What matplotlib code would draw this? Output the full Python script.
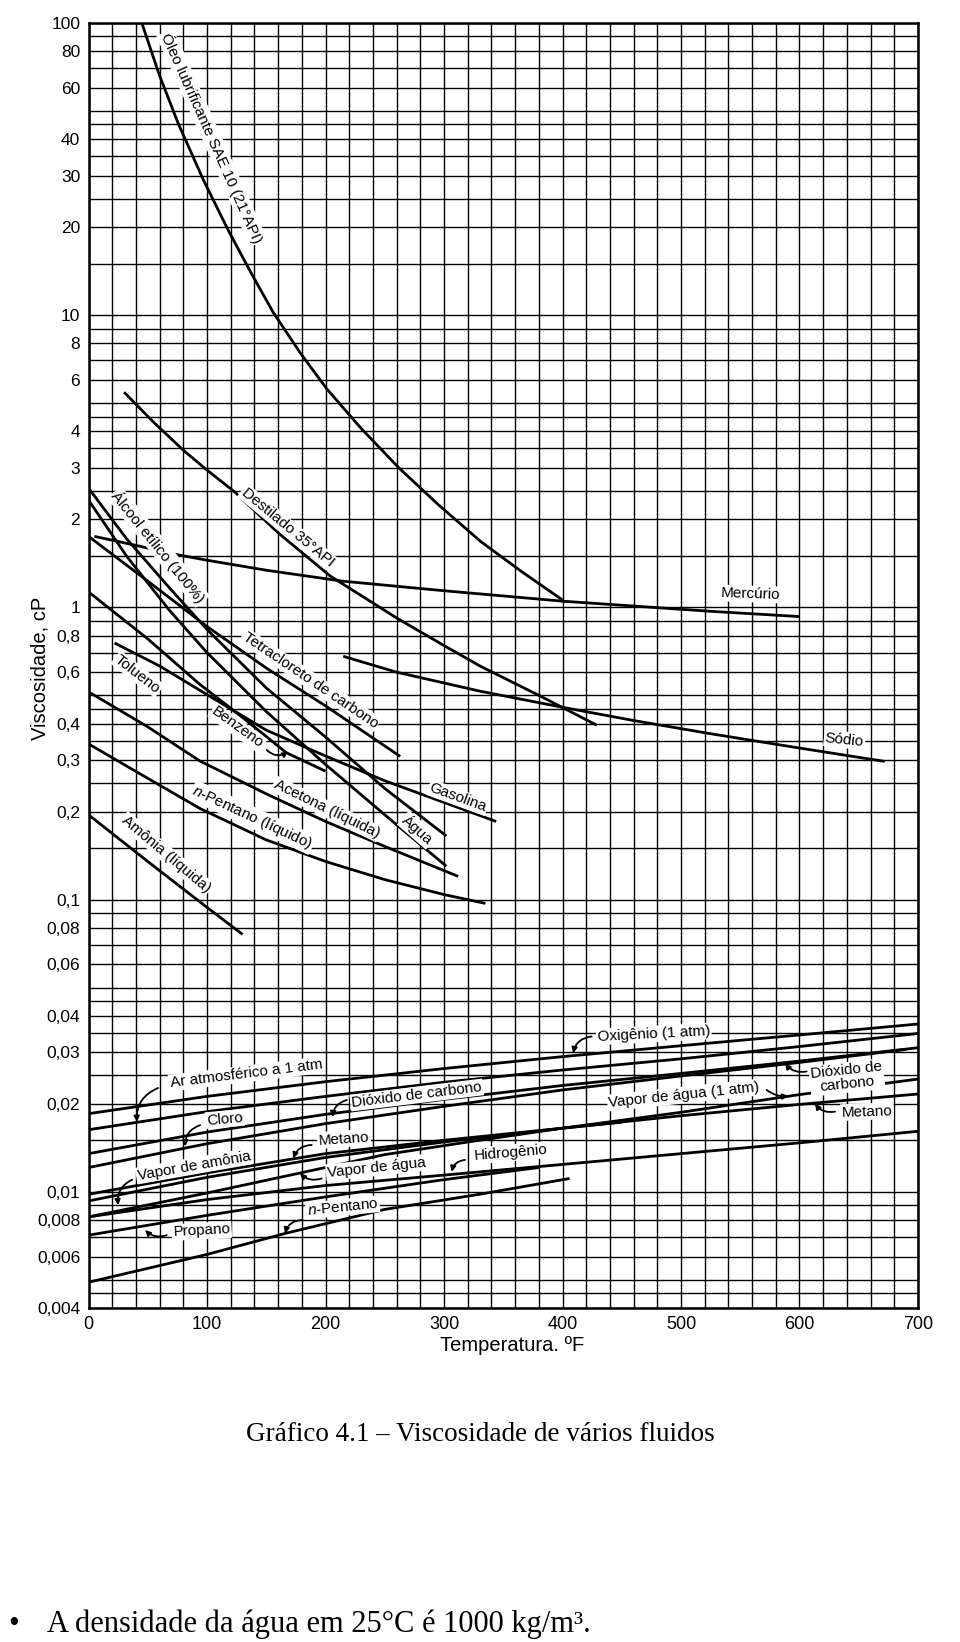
import matplotlib
matplotlib.use("Agg")
import matplotlib.pyplot as plt
from matplotlib.ticker import FixedLocator, NullFormatter

plt.rcParams['font.family'] = ['Liberation Sans', 'DejaVu Sans']
plt.rcParams['mathtext.fontset'] = 'custom'
plt.rcParams['mathtext.it'] = 'Liberation Sans:italic'
plt.rcParams['mathtext.rm'] = 'Liberation Sans'

# ---- curves: temperature (F) and viscosity (cP) ----
oleo_t = [45, 60, 76, 97, 118, 137, 156, 179, 201, 230, 262, 295, 331, 365, 400]
oleo_mu = [100, 66, 45, 29, 19.5, 14, 10.2, 7.4, 5.6, 4.1, 3.0, 2.25, 1.68, 1.33, 1.06]

destilado_t = [30, 55, 80, 100, 123, 160, 204, 260, 300, 331, 380, 429]
destilado_mu = [5.45, 4.3, 3.45, 2.95, 2.49, 1.8, 1.28, 0.92, 0.74, 0.628, 0.5, 0.395]

mercurio_t = [5, 43, 69, 100, 150, 214, 300, 400, 524, 600]
mercurio_mu = [1.75, 1.62, 1.53, 1.45, 1.34, 1.23, 1.14, 1.05, 0.97, 0.93]

sodio_t = [215, 260, 330, 400, 460, 524, 600, 672]
sodio_mu = [0.68, 0.6, 0.517, 0.455, 0.41, 0.37, 0.33, 0.297]

alcool_t = [0, 32, 68, 100, 150, 200, 250, 302]
alcool_mu = [2.56, 1.72, 1.17, 0.84, 0.53, 0.36, 0.24, 0.165]

agua_t = [0, 32, 68, 100, 150, 200, 250, 302]
agua_mu = [2.33, 1.5, 0.98, 0.70, 0.44, 0.29, 0.195, 0.130]

tetra_t = [0, 50, 100, 150, 200, 263]
tetra_mu = [1.75, 1.23, 0.86, 0.62, 0.46, 0.309]

benzeno_t = [0, 50, 94, 130, 167, 200]
benzeno_mu = [1.13, 0.78, 0.545, 0.42, 0.318, 0.275]

gasolina_t = [22, 60, 94, 150, 200, 250, 300, 344]
gasolina_mu = [0.755, 0.63, 0.52, 0.38, 0.31, 0.255, 0.215, 0.185]

acetona_t = [0, 50, 94, 150, 200, 250, 312]
acetona_mu = [0.514, 0.39, 0.298, 0.23, 0.185, 0.152, 0.12]

pentano_liq_t = [0, 50, 94, 150, 200, 250, 300, 335]
pentano_liq_mu = [0.341, 0.26, 0.205, 0.16, 0.135, 0.117, 0.104, 0.097]

amonia_liq_t = [0, 50, 100, 130]
amonia_liq_mu = [0.195, 0.135, 0.094, 0.076]

# gases
gas_t = [0, 100, 200, 300, 400, 500, 600, 700]
oxigenio_mu = [0.0185, 0.0212, 0.0238, 0.0264, 0.0290, 0.0316, 0.0344, 0.0375]
ar_mu = [0.0163, 0.0188, 0.0212, 0.0237, 0.0261, 0.0285, 0.0314, 0.0348]
co2_mu = [0.0135, 0.0160, 0.0184, 0.0207, 0.0231, 0.0254, 0.0280, 0.0311]
metano_mu = [0.0098, 0.0116, 0.0135, 0.0150, 0.0165, 0.0182, 0.0199, 0.0216]
hidrogenio_mu = [0.0082, 0.0094, 0.0105, 0.0114, 0.0124, 0.0135, 0.0147, 0.0161]

vapor_agua_t = [0, 100, 179, 250, 330, 400, 500, 600, 700]
vapor_agua_mu = [0.0082, 0.0099, 0.0116, 0.0134, 0.0150, 0.0165, 0.0187, 0.0215, 0.0243]

cloro_t = [0, 100, 200, 300, 400, 500, 600, 690]
cloro_mu = [0.0121, 0.0146, 0.0171, 0.0196, 0.0223, 0.0249, 0.0277, 0.0307]

amonia_vap_t = [0, 100, 200, 300, 400, 450]
amonia_vap_mu = [0.0093, 0.0112, 0.0131, 0.0148, 0.0165, 0.0173]

propano_t = [0, 100, 200, 300, 380]
propano_mu = [0.0071, 0.0083, 0.0096, 0.0110, 0.0121]

pentano_vap_t = [0, 100, 166, 250, 330, 406]
pentano_vap_mu = [0.0049, 0.0061, 0.0072, 0.0087, 0.0098, 0.0111]

curves = [
    (oleo_t, oleo_mu), (destilado_t, destilado_mu), (mercurio_t, mercurio_mu),
    (sodio_t, sodio_mu), (alcool_t, alcool_mu), (agua_t, agua_mu),
    (tetra_t, tetra_mu), (benzeno_t, benzeno_mu), (gasolina_t, gasolina_mu),
    (acetona_t, acetona_mu), (pentano_liq_t, pentano_liq_mu),
    (amonia_liq_t, amonia_liq_mu),
    (gas_t, oxigenio_mu), (gas_t, ar_mu), (gas_t, co2_mu), (cloro_t, cloro_mu),
    (gas_t, metano_mu), (vapor_agua_t, vapor_agua_mu), (gas_t, hidrogenio_mu),
    (amonia_vap_t, amonia_vap_mu), (propano_t, propano_mu),
    (pentano_vap_t, pentano_vap_mu),
]

# axis ticks
x_ticks = [0, 100, 200, 300, 400, 500, 600, 700]
y_ticks = [100, 80, 60, 40, 30, 20, 10, 8, 6, 4, 3, 2, 1, 0.8, 0.6, 0.4, 0.3, 0.2,
           0.1, 0.08, 0.06, 0.04, 0.03, 0.02, 0.01, 0.008, 0.006, 0.004]
y_tick_labels = ['100', '80', '60', '40', '30', '20', '10', '8', '6', '4', '3', '2',
                 '1', '0,8', '0,6', '0,4', '0,3', '0,2', '0,1', '0,08', '0,06',
                 '0,04', '0,03', '0,02', '0,01', '0,008', '0,006', '0,004']
grid_mult = [1.5, 2.5, 3.5, 4.5, 5, 7, 9]
decades = [0.001, 0.01, 0.1, 1, 10]

# curve labels: text, T, mu, angle
labels = [
    ("Óleo lubrificante SAE 10 (21°API)", 104, 40.5, -66),
    ("Destilado 35°API", 168, 1.877, -39.5),
    ("Mercúrio", 559, 1.111, -2),
    ("Sódio", 638, 0.352, -6),
    ("Álcool etílico (100%)", 59, 1.61, -51),
    ("Tetracloreto de carbono", 187, 0.564, -34),
    ("Tolueno", 41.4, 0.591, -38),
    ("Benzeno", 125.7, 0.387, -36),
    ("Gasolina", 311.8, 0.2235, -20),
    ("Acetona (líquida)", 201, 0.204, -26),
    ("Água", 277.6, 0.173, -41),
    ("$n$-Pentano (líquido)", 138.4, 0.191, -25),
    ("Amônia (líquida)", 65.4, 0.1432, -40),
    ("Ar atmosférico a 1 atm", 133, 0.0253, 7),
    ("Dióxido de carbono", 277, 0.02143, 7),
    ("Cloro", 115, 0.01774, 5),
    ("Vapor de amônia", 89, 0.01225, 10),
    ("Metano", 215.6, 0.01517, 4),
    ("Vapor de água", 243, 0.0121, 6),
    ("Hidrogênio", 356.5, 0.01358, 5),
    ("Propano", 95.5, 0.00734, 3),
    ("$n$-Pentano", 214.4, 0.00883, 6),
    ("Oxigênio (1 atm)", 477, 0.03467, 3),
    ("Dióxido de\ncarbono", 640, 0.0246, 6),
    ("Vapor de água (1 atm)", 502.6, 0.02143, 6),
    ("Metano", 657, 0.01879, 2),
]

# pointer arrows: tail (T, mu) -> head (T, mu), curvature
pointers = [
    ((58.7, 0.02265), (40.9, 0.01734), 0.35),
    ((218, 0.0206), (206, 0.0180), 0.35),
    ((94.2, 0.0169), (81.6, 0.0143), 0.35),
    ((36.9, 0.0110), (25.1, 0.0090), 0.35),
    ((188.4, 0.01445), (172.9, 0.0130), 0.35),
    ((196.8, 0.0111), (178.5, 0.01156), -0.3),
    ((317.7, 0.01285), (306.5, 0.0117), 0.35),
    ((66, 0.0071), (47.7, 0.0074), -0.3),
    ((180, 0.0080), (165.8, 0.0072), 0.35),
    ((424.6, 0.0340), (409, 0.0298), 0.35),
    ((606, 0.0258), (587.8, 0.0275), -0.3),
    ((572.3, 0.0223), (590.5, 0.0213), 0.2),
    ((630, 0.0188), (613, 0.0200), -0.3),
    ((150.4, 0.325), (168.4, 0.321), 0.4),
]

fig = plt.figure(figsize=(9.6, 16.42), dpi=100)
ax = fig.add_axes([88.5 / 960, 1 - 1308 / 1642, 829.5 / 960, 1285 / 1642])
ax.set_yscale('log')
ax.set_xlim(0, 700)
ax.set_ylim(0.004, 100)

ax.xaxis.set_major_locator(FixedLocator(x_ticks))
ax.xaxis.set_minor_locator(FixedLocator(list(range(0, 701, 20))))
ax.set_xticklabels([str(t) for t in x_ticks])
ax.yaxis.set_major_locator(FixedLocator(y_ticks))
ax.yaxis.set_minor_locator(FixedLocator([m * d for d in decades for m in grid_mult]))
ax.yaxis.set_minor_formatter(NullFormatter())
ax.set_yticklabels(y_tick_labels)
ax.tick_params(which='both', length=0)
ax.tick_params(axis='y', pad=6, labelsize=12.5)
ax.tick_params(axis='x', pad=6, labelsize=13)
ax.grid(which='both', color='black', lw=1.0)
ax.set_axisbelow(True)
for s in ax.spines.values():
    s.set_linewidth(1.8)

for t, mu in curves:
    ax.plot(t, mu, color='black', lw=2.0, zorder=3, solid_capstyle='butt')

for txt, t, mu, ang in labels:
    ax.text(t, mu, txt, rotation=ang, rotation_mode='anchor', ha='center', va='center',
            fontsize=11, linespacing=1.0, zorder=4,
            bbox=dict(facecolor='white', edgecolor='none', pad=1.0))

for tail, head, rad in pointers:
    ax.annotate('', xy=head, xytext=tail, zorder=5,
                arrowprops=dict(arrowstyle='-|>', connectionstyle='arc3,rad=%s' % rad,
                                lw=1.3, color='black', mutation_scale=8,
                                shrinkA=0, shrinkB=0))

fig.text(40 / 960, 1 - 668 / 1642, 'Viscosidade, cP', rotation=90,
         ha='center', va='center', fontsize=14.5)
fig.text(512 / 960, 1 - 1345 / 1642, 'Temperatura. ºF', ha='center', va='center',
         fontsize=14.5)

fig.text(480 / 960, 1 - 1434 / 1642, 'Gráfico 4.1 – Viscosidade de vários fluidos',
         family='Liberation Serif', fontsize=19.5, ha='center', va='center')
fig.text(14 / 960, 1 - 1624 / 1642, '•', family='Liberation Serif', fontsize=22,
         ha='center', va='center')
fig.text(47 / 960, 1 - 1624 / 1642, 'A densidade da água em 25°C é 1000 kg/m³.',
         family='Liberation Serif', fontsize=22, ha='left', va='center')

fig.savefig('out.png', dpi=100)
